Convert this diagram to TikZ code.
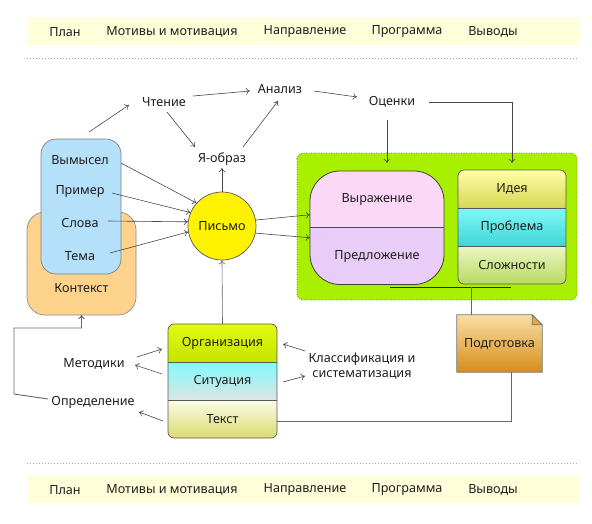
\documentclass[tikz,border=0pt]{standalone}
\usepackage{fontspec}
\setmainfont{Noto Sans}
\usetikzlibrary{arrows.meta}
\definecolor{band}{HTML}{FEFED8}
\definecolor{lime}{HTML}{A8F000}
\definecolor{limeborder}{HTML}{70A800}
\definecolor{bluefill}{HTML}{B4E0FA}
\definecolor{orangefill}{HTML}{FDD38C}
\definecolor{pinkA}{HTML}{FCD8F8}
\definecolor{pinkB}{HTML}{E9CCF7}
\definecolor{txt}{HTML}{1E1E1E}
\begin{document}
\begin{tikzpicture}[x=1pt,y=-1pt,
  lbl/.style={font=\fontsize{12.6}{15}\selectfont, text=txt, inner sep=0pt},
  arr/.style={draw=black!72, line width=0.6pt, -{To[length=4pt,width=6.5pt]}},
  plain/.style={draw=black!60, line width=0.9pt},
  cell/.style={lbl, minimum width=109pt, minimum height=38pt, outer sep=0pt},
  rcell/.style={lbl, minimum width=108pt, minimum height=38pt, outer sep=0pt},
  pcell/.style={lbl, minimum width=134pt, minimum height=56.75pt, outer sep=0pt},
  dotline/.style={draw=black!35, line width=0.8pt, dash pattern=on 1pt off 2pt},
]
\useasboundingbox (0,0) rectangle (592,523);
\fill[white] (0,0) rectangle (592,523);

% ---- top and bottom bands
\fill[band] (27,18) rectangle (579,45);
\fill[band] (27,476) rectangle (579,503);
\draw[dotline] (27,58.5) -- (579,58.5);
\draw[dotline] (27,463) -- (579,463);
\foreach \y/\n in {32/t, 490/b}{
  \node[lbl] (plan\n) at (65,\y) {План};
  \node[lbl] (motiv\n) at (172,\y) {Мотивы и мотивация};
  \node[lbl] (naprav\n) at (305,\y) {Направление};
  \node[lbl] (progr\n) at (407,\y) {Программа};
  \node[lbl] (vyvod\n) at (493,\y) {Выводы};
}

% ---- context and blue box
\draw[fill=orangefill, draw=black!45, line width=0.7pt, rounded corners=18] (27,212) rectangle (136,315);
\node[lbl] (kontekst) at (81.5,288) {Контекст};
\coordinate (kontekstS) at (81.5,315);
\draw[fill=bluefill, draw=black!50, line width=0.7pt, rounded corners=15] (41,139) rectangle (121,274);
\coordinate (blueN) at (81,139);
\node[lbl] (vym) at (80,160) {Вымысел};
\node[lbl] (primer) at (80,192) {Пример};
\node[lbl] (slova) at (80,223) {Слова};
\node[lbl] (tema) at (80,256) {Тема};

% ---- top labels
\node[lbl] (chtenie) at (164,102) {Чтение};
\node[lbl] (analiz) at (280,89) {Анализ};
\node[lbl] (ocenki) at (392,102) {Оценки};
\node[lbl] (yaobraz) at (222,159) {Я-образ};

% ---- Письмо
\node[circle, fill=yellow, draw=black!65, line width=0.7pt, minimum size=68pt, lbl] (pismo) at (222,226) {Письмо};

% ---- green area
\draw[fill=lime, draw=limeborder, line width=0.8pt, dash pattern=on 1pt off 1.5pt, rounded corners=6] (297,153) rectangle (577,300);

% pink box
\begin{scope}
\clip[rounded corners=30] (310,171) rectangle (444,284.5);
\node[pcell, fill=pinkA] (vyraz) at (377,199.375) {Выражение};
\node[pcell, fill=pinkB] (predl) at (377,256.125) {Предложение};
\end{scope}
\draw[draw=black!75, line width=0.8pt, rounded corners=30] (vyraz.north west) rectangle (predl.south east);
\draw[draw=black!70, line width=0.8pt] (vyraz.south west) -- (vyraz.south east);

% right stack
\begin{scope}
\clip[rounded corners=6] (458,170) rectangle (566,284);
\node[rcell, top color=yellow!35!white, bottom color={rgb,255:red,214;green,214;blue,84}] (ideya) at (512,189) {Идея};
\node[rcell, top color={rgb,255:red,130;green,248;blue,248}, bottom color={rgb,255:red,64;green,214;blue,214}] (problema) at (512,227) {Проблема};
\node[rcell, top color={rgb,255:red,236;green,246;blue,196}, bottom color={rgb,255:red,184;green,218;blue,96}] (slozh) at (512,265) {Сложности};
\end{scope}
\draw[draw=black!65, line width=0.7pt, rounded corners=6] (ideya.north west) rectangle (slozh.south east);
\draw[draw=black!65, line width=0.7pt] (ideya.south west) -- (ideya.south east);
\draw[draw=black!65, line width=0.7pt] (problema.south west) -- (problema.south east);

% line under boxes
\coordinate (underL) at (390,287);
\coordinate (underR) at (511,287);
\draw[draw=black!85, line width=0.8pt] (underL) -- (underR);

% ---- Подготовка
\node[lbl, minimum width=85pt, minimum height=57pt] (podg) at (499.5,343.5) {};
\shade[top color={rgb,255:red,250;green,222;blue,164}, bottom color={rgb,255:red,214;green,142;blue,28}, draw=black!55, line width=0.7pt]
  (podg.north west) -- ([shift={(-10,0)}]podg.north east) -- ([shift={(0,10)}]podg.north east) -- (podg.south east) -- (podg.south west) -- cycle;
\draw[fill={rgb,255:red,226;green,168;blue,60}, draw=black!55, line width=0.7pt, line join=round]
  ([shift={(-10,0)}]podg.north east) -- ([shift={(-10,10)}]podg.north east) -- ([shift={(0,10)}]podg.north east) -- cycle;
\node[lbl] (podgtxt) at ([shift={(0,0.5)}]podg.center) {Подготовка};

% ---- organisation stack
\begin{scope}
\clip[rounded corners=6] (168,324) rectangle (277,438);
\node[cell, top color={rgb,255:red,226;green,250;blue,20}, bottom color={rgb,255:red,196;green,228;blue,0}] (org) at (222.5,343) {Организация};
\node[cell, top color={rgb,255:red,128;green,250;blue,250}, bottom color={rgb,255:red,222;green,228;blue,228}] (sit) at (222.5,381) {Ситуация};
\node[cell, top color={rgb,255:red,252;green,252;blue,232}, bottom color={rgb,255:red,218;green,218;blue,112}] (tekst) at (222.5,419) {Текст};
\end{scope}
\draw[draw=black!65, line width=0.7pt, rounded corners=6] (org.north west) rectangle (tekst.south east);
\draw[draw=black!65, line width=0.7pt] (org.south west) -- (org.south east);
\draw[draw=black!65, line width=0.7pt] (sit.south west) -- (sit.south east);

\node[lbl] (metod) at (94,364) {Методики};
\node[lbl] (opred) at (93,402) {Определение};
\node[lbl, align=center] (klass) at (362,366) {Классификация и\\систематизация};

% ---- connectors
\draw[arr] ([shift={(8,-7)}]blueN) -- ([shift={(-35,3)}]chtenie.center);
\draw[arr] ([shift={(3,10)}]chtenie.center) -- ([shift={(-27,-12)}]yaobraz.center);
\draw[arr] ([shift={(29,-6)}]chtenie.center) -- ([shift={(-30,2)}]analiz.center);
\draw[arr] ([shift={(21,-12)}]yaobraz.center) -- ([shift={(-2,12)}]analiz.center);
\draw[arr] ([shift={(34,2)}]analiz.center) -- ([shift={(-35,-5)}]ocenki.center);
\draw[arr] ([shift={(-5,18)}]ocenki.center) -- ([shift={(10,-8)}]vyraz.north);
\draw[arr] ([shift={(37,0)}]ocenki.center) -| ([shift={(0,-7)}]ideya.north);
\draw[arr] (pismo.north) -- ([shift={(0,9)}]yaobraz.center);

\draw[arr] ([shift={(41,3)}]vym.center) -- (pismo.138);
\draw[arr] ([shift={(32,1)}]primer.center) -- (pismo.157);
\draw[arr] ([shift={(28,-2)}]slova.center) -- (pismo.173);
\draw[arr] ([shift={(30,-3)}]tema.center) -- (pismo.190);

\draw[arr] (pismo.10) -- ([shift={(0,-13)}]vyraz.south west);
\draw[arr] (pismo.-12) -- ([shift={(0,10)}]predl.north west);

\draw[arr, draw=black!60] (org.north) -- (pismo.south);

\draw[arr] ([shift={(43,-7)}]metod.center) -- ([shift={(-6,6)}]org.west);
\draw[arr] ([shift={(-6,-7)}]sit.west) -- ([shift={(41,1)}]metod.center);
\draw[arr] ([shift={(-57,-15)}]klass.center) -- ([shift={(6,1)}]org.east);
\draw[arr] ([shift={(6,1)}]sit.east) -- ([shift={(-57,10)}]klass.center);
\draw[arr] ([shift={(-5,2)}]tekst.west) -- ([shift={(46,10)}]opred.center);

\draw[arr, draw=black!60, line width=0.9pt] ([shift={(-45,-3)}]opred.center) -- ++(-34,-5) |- ([shift={(0,13)}]kontekstS) -- (kontekstS);
\draw[plain] ([shift={(0,2)}]tekst.east) -| ([shift={(11.5,0)}]podg.south);
\draw[plain] ([shift={(-28.5,0)}]podg.north) -- ([shift={(-40,0)}]underR);
\end{tikzpicture}
\end{document}
